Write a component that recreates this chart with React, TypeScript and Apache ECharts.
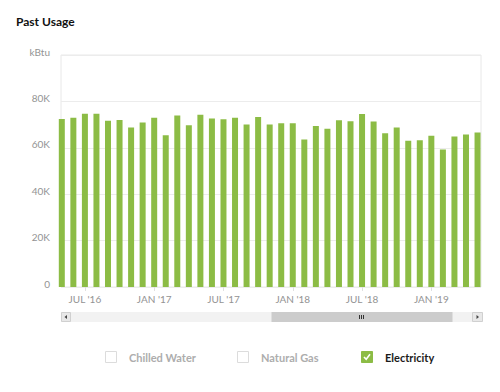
import React, { useEffect, useRef } from "react";
import * as echarts from "echarts";

// Months shown (May '16 .. May '19)
const months: string[] = [
  "MAY '16", "JUN '16", "JUL '16", "AUG '16", "SEP '16", "OCT '16", "NOV '16", "DEC '16",
  "JAN '17", "FEB '17", "MAR '17", "APR '17", "MAY '17", "JUN '17", "JUL '17", "AUG '17",
  "SEP '17", "OCT '17", "NOV '17", "DEC '17", "JAN '18", "FEB '18", "MAR '18", "APR '18",
  "MAY '18", "JUN '18", "JUL '18", "AUG '18", "SEP '18", "OCT '18", "NOV '18", "DEC '18",
  "JAN '19", "FEB '19", "MAR '19", "APR '19", "MAY '19",
];

// Electricity usage, kBtu
const electricity: number[] = [
  72400, 72900, 74700, 74700, 71700, 72000, 68700, 70900,
  72900, 65400, 73900, 69700, 74200, 72600, 72300, 72900,
  70000, 73300, 70000, 70600, 70600, 63600, 69400, 68200,
  71900, 71400, 74600, 71300, 66300, 68700, 63000, 63300,
  65200, 59300, 64900, 65700, 66600,
];

const legendNames: string[] = ["Chilled Water", "Natural Gas", "Electricity"];
const legendActive: boolean[] = [false, false, true];

const GREEN = "#8cbc45";

export default function App() {
  const ref = useRef<HTMLDivElement>(null);
  useEffect(() => {
    if (!ref.current) return;
    const chart = echarts.init(ref.current, undefined, { renderer: "svg" });
    const tickIdx = months
      .map((m, i) => (m.startsWith("JUL") || m.startsWith("JAN") ? i : -1))
      .filter((i) => i >= 0);

    const legendX = [105, 237, 361];
    const legendGraphics: any[] = [];
    legendNames.forEach((name, i) => {
      const x = legendX[i];
      const active = legendActive[i];
      legendGraphics.push({
        type: "rect",
        shape: { x: x + 0.5, y: 351.5, width: 11, height: 11 },
        style: active
          ? { fill: GREEN, stroke: GREEN, lineWidth: 1 }
          : { fill: "#fff", stroke: "#dcdcdc", lineWidth: 1 },
      });
      if (active) {
        legendGraphics.push({
          type: "polyline",
          shape: { points: [[x + 3, 357], [x + 5.2, 359.3], [x + 9, 354.3]] },
          style: { stroke: "#fff", lineWidth: 1.6, fill: null },
        });
      }
      legendGraphics.push({
        type: "text",
        x: x + 24,
        y: 357,
        style: {
          text: name,
          fill: active ? "#1a1a1a" : "#adadad",
          font: "bold 11px Lato",
          verticalAlign: "middle",
          align: "left",
        },
      });
    });

    const scrollbar: any[] = [
      { type: "rect", shape: { x: 61.5, y: 312.5, width: 421, height: 9 }, style: { fill: "#f2f2f2", stroke: "#f2f2f2" } },
      { type: "rect", shape: { x: 61.5, y: 312.5, width: 9, height: 9 }, style: { fill: "#e8e8e8", stroke: "#d0d0d0" } },
      { type: "polygon", shape: { points: [[64.5, 317], [67, 315], [67, 319]] }, style: { fill: "#444" } },
      { type: "rect", shape: { x: 472.5, y: 312.5, width: 10, height: 9 }, style: { fill: "#e8e8e8", stroke: "#d0d0d0" } },
      { type: "polygon", shape: { points: [[479, 317], [476.5, 315], [476.5, 319]] }, style: { fill: "#444" } },
      { type: "rect", shape: { x: 271.5, y: 312, width: 181, height: 10 }, style: { fill: "#cccccc" } },
      { type: "line", shape: { x1: 359.5, y1: 315, x2: 359.5, y2: 319 }, style: { stroke: "#333", lineWidth: 1 } },
      { type: "line", shape: { x1: 361.5, y1: 315, x2: 361.5, y2: 319 }, style: { stroke: "#333", lineWidth: 1 } },
      { type: "line", shape: { x1: 363.5, y1: 315, x2: 363.5, y2: 319 }, style: { stroke: "#333", lineWidth: 1 } },
    ];

    chart.setOption({
      animation: false,
      title: {
        text: "Past Usage",
        left: 11,
        top: 10,
        textStyle: { fontFamily: "Lato", fontWeight: "bold", fontSize: 12, color: "#111" },
      },
      grid: {
        left: 61,
        right: 19,
        top: 55,
        bottom: 105,
        show: true,
        borderColor: "#e8e8e8",
        borderWidth: 1,
      },
      xAxis: {
        type: "value",
        min: -0.07,
        max: 36.3,
        splitLine: { show: false },
        axisLine: { show: false },
        axisTick: {
          show: true,
          customValues: tickIdx,
          length: 4,
          lineStyle: { color: "#e0e0e0" },
        },
        axisLabel: {
          customValues: tickIdx,
          formatter: (v: number) => months[Math.round(v)] ?? "",
          color: "#939393",
          fontFamily: "Lato",
          fontSize: 10,
          margin: 7,
        },
      },
      yAxis: {
        type: "value",
        min: 0,
        max: 100000,
        interval: 20000,
        axisLine: { show: false },
        axisTick: { show: false },
        splitLine: { lineStyle: { color: "#ececec" } },
        axisLabel: {
          formatter: (v: number) => (v === 100000 ? "kBtu" : v === 0 ? "0" : v / 1000 + "K"),
          color: "#939393",
          fontFamily: "Lato",
          fontSize: 10,
          margin: 11,
          verticalAlign: "bottom",
          lineHeight: 7,
        },
      },
      series: [
        {
          type: "bar",
          name: "Electricity",
          data: electricity.map((v, i) => [i, v]),
          barWidth: 6,
          clip: true,
          itemStyle: { color: GREEN },
        },
      ],
      graphic: [...scrollbar, ...legendGraphics],
    });
    return () => chart.dispose();
  }, []);
  return (
    <div
      ref={ref}
      style={{ position: "fixed", left: 0, top: 0, width: 500, height: 392, background: "#fff" }}
    />
  );
}
